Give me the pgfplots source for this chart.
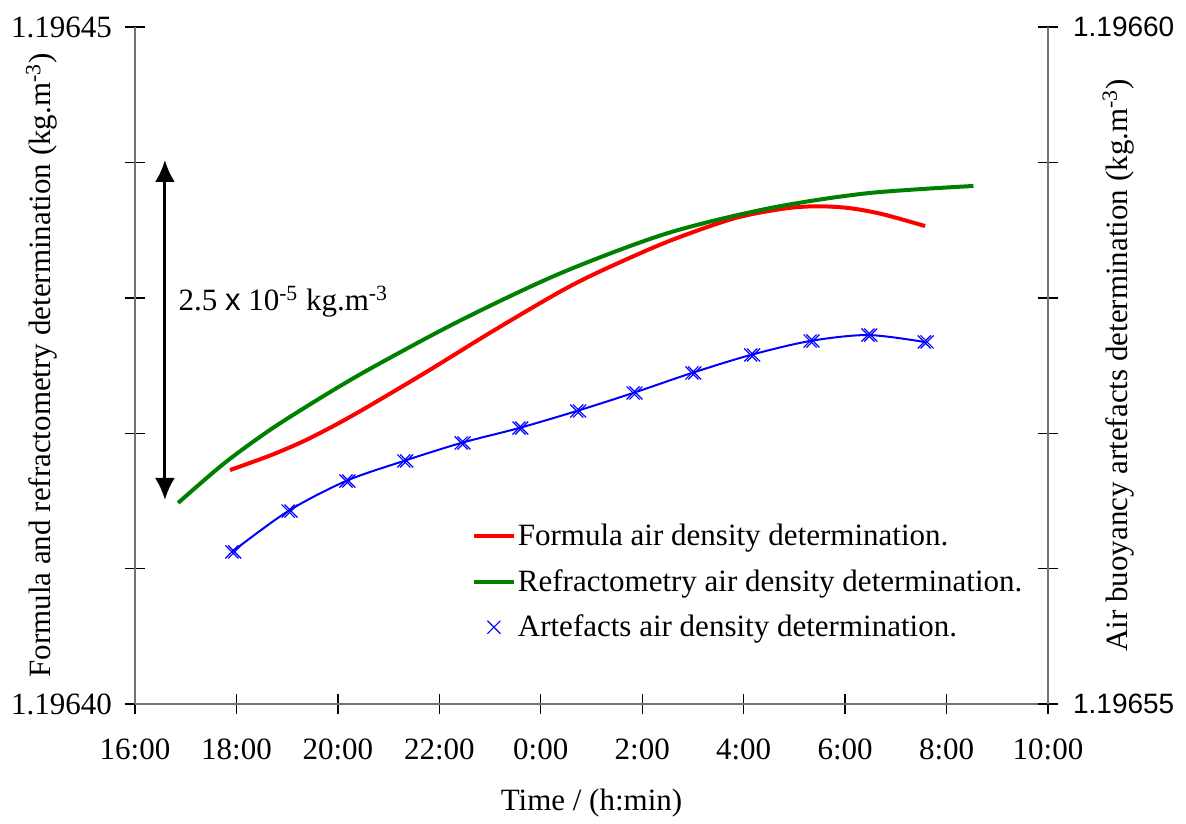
\documentclass[border=0pt]{standalone}
\usepackage{fontspec}
\setmainfont{Liberation Serif}
\newfontfamily\arialfont{Liberation Sans}
\usepackage{pgfplots}
\usepackage{pgfplotstable}
\pgfplotsset{compat=1.18}
\usetikzlibrary{arrows.meta}

\pgfplotsset{
  lineleg/.style={legend image code/.code={\draw[##1] (0pt,0pt) -- (20pt,0pt);}},
  markleg/.style={legend image code/.code={\draw[blue, line width=0.6pt, mark=x, mark size=4.6pt] plot[only marks] coordinates {(10pt,0pt)};}},
}

% time in hours after midnight of day 1 (24 = 0:00), density as offset in 1e-5 kg/m3
\pgfplotstableread{
h v
17.873 1.728
18.662 1.835
19.318 1.940
19.977 2.066
20.633 2.205
21.757 2.455
23.058 2.755
24.379 3.045
25.168 3.195
26.483 3.412
27.796 3.585
28.782 3.658
29.440 3.676
30.097 3.662
30.754 3.616
31.576 3.530
}\formula

\pgfplotstableread{
h v
16.85 1.485
17.75 1.775
18.66 2.024
19.65 2.259
20.63 2.475
22.40 2.830
24.38 3.180
26.48 3.475
28.50 3.661
30.43 3.772
32.53 3.826
}\refrac

\pgfplotstableread{
h v
17.91 1.123
19.02 1.425
20.16 1.647
21.30 1.795
22.43 1.928
23.57 2.038
24.71 2.164
25.82 2.297
26.98 2.445
28.14 2.578
29.31 2.681
30.45 2.725
31.56 2.674
}\artef

\begin{document}
\begin{tikzpicture}[font=\fontsize{15.5}{18}\selectfont]
\pgfplotsset{
  base/.style={
    scale only axis, width=456.5pt, height=338.5pt,
    at={(0,0)}, anchor=south west,
    xmin=16, xmax=34, ymin=0, ymax=5,
    ytick={0,1,2,3,4,5},
    tick align=center, major tick length=10pt,
    axis line style={line width=0.7pt, black!55},
    tick style={line width=0.7pt, black},
    clip=false,
  },
}
\begin{axis}[base,
    axis x line*=bottom, axis y line*=left,
    xtick={16,18,...,34},
    xticklabels={16:00,18:00,20:00,22:00,0:00,2:00,4:00,6:00,8:00,10:00},
    yticklabels={1.19640,{},{},{},{},1.19645},
    xticklabel style={font=\rmfamily\fontsize{15.5}{18}\selectfont, yshift=-9pt},
    yticklabel style={font=\rmfamily\fontsize{15.5}{18}\selectfont, xshift=-3pt},
    xlabel={Time / (h:min)},
    ylabel={Formula and refractometry determination (kg.m\textsuperscript{-3})},
    xlabel style={at={(axis description cs:0.5,-0.146)}, anchor=center},
    ylabel style={at={(axis description cs:-0.102,0.5)}, anchor=center},
  ]
  \addplot[red, line width=2pt, smooth] table {\formula};
  \addplot[green!50!black, line width=2pt, smooth] table {\refrac};
  \draw[{Latex[length=11pt,width=10pt]}-{Latex[length=11pt,width=10pt]}, line width=1.5pt]
    (axis cs:16.59,1.507) -- (axis cs:16.59,4.018);
  \node[anchor=west, inner sep=0pt] at (axis cs:16.85,2.97)
    {2.5 {\arialfont x} 10\textsuperscript{-5} kg.m\textsuperscript{-3}};
\end{axis}

\begin{axis}[base,
    axis x line=none, axis y line*=right,
    yticklabels={1.19655,{},{},{},{},1.19660},
    yticklabel style={font=\arialfont\fontsize{14}{16}\selectfont, xshift=4pt},
    ylabel={Air buoyancy artefacts determination (kg.m\textsuperscript{-3})},
    ylabel style={at={(axis description cs:1.077,0.5)}, anchor=center},
    legend style={draw=none, fill=none, at={(0.362,0.275)}, anchor=north west,
      row sep=8.3pt, nodes={inner sep=1pt}},
    legend cell align=left,
  ]
  \addlegendimage{red, line width=2pt, lineleg}
  \addlegendentry{Formula air density determination.}
  \addlegendimage{green!50!black, line width=2pt, lineleg}
  \addlegendentry{Refractometry air density determination.}
  \addplot[blue, line width=1pt, smooth, mark=x, mark size=4.6pt,
    mark options={line width=0.6pt}, markleg]
    table {\artef};
  \addlegendentry{Artefacts air density determination.}
  \addplot[blue, only marks, mark=x, mark size=4.6pt, forget plot,
    mark options={line width=0.6pt},
    every mark/.append style={xshift=1.4pt}]
    table[skip first n=1] {\artef};
\end{axis}
\path[use as bounding box] (-67.5pt,-58.5pt) rectangle (525.5pt,352pt);
\end{tikzpicture}
\end{document}
